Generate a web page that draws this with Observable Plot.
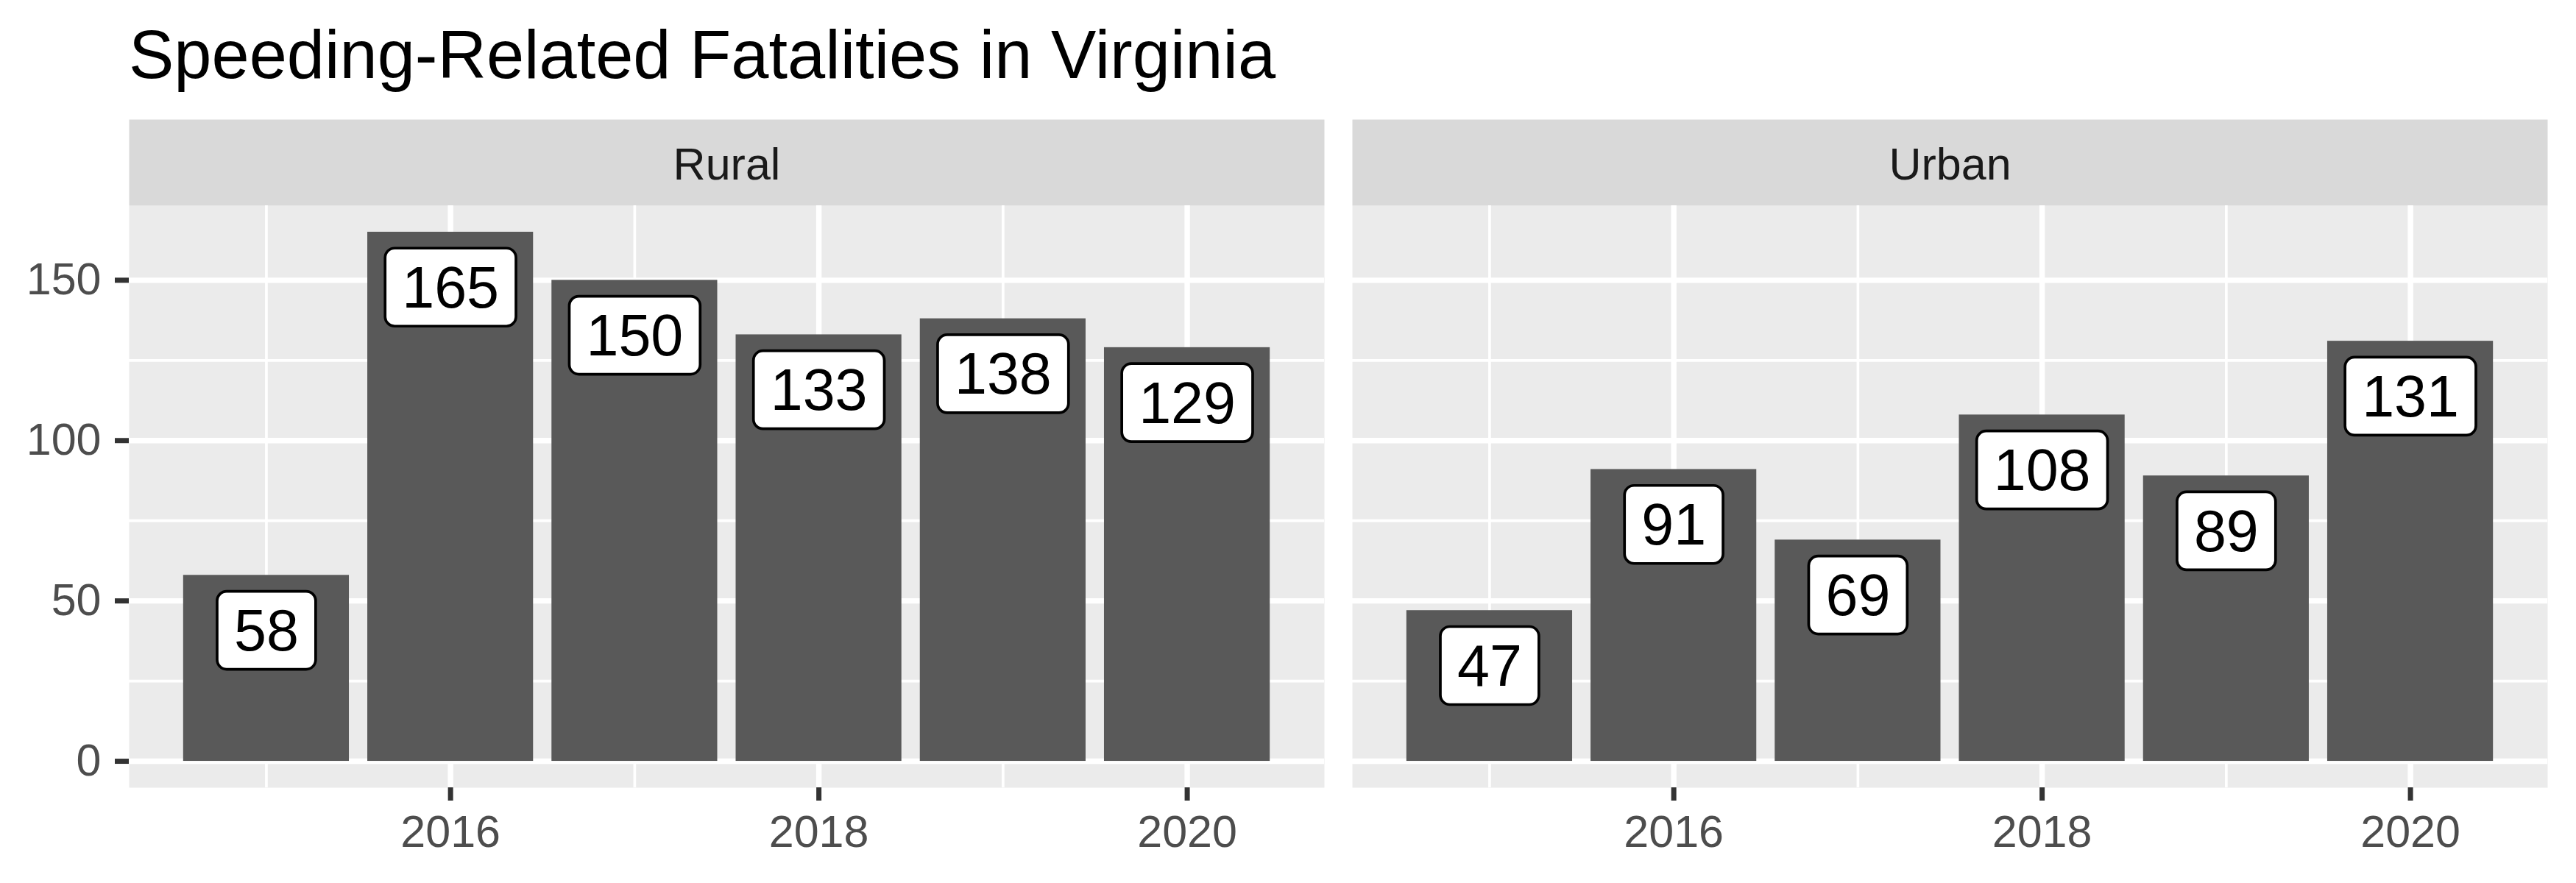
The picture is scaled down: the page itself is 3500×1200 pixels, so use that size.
<!DOCTYPE html>
<html><head><meta charset="utf-8">
<script src="https://cdn.jsdelivr.net/npm/d3@7"></script>
<script src="https://cdn.jsdelivr.net/npm/@observablehq/plot@0.6"></script>
<style>
body{margin:0;background:#fff;width:3500px;height:1200px;overflow:hidden;font-family:"Liberation Sans",Arial,sans-serif;}
#title{position:absolute;left:175px;top:28px;font-size:92px;line-height:92px;color:#000;white-space:nowrap;}
#chart{position:absolute;left:0;top:130px;}
</style></head><body>
<div id="title">Speeding-Related Fatalities in Virginia</div>
<div id="chart"></div>
<script>
const locations = ["Rural", "Urban"];
const years = [2015, 2016, 2017, 2018, 2019, 2020];
const rural = [58, 165, 150, 133, 138, 129];
const urban = [47, 91, 69, 108, 89, 131];
const yTicks = [0, 50, 100, 150];
const yMinor = [25, 75, 125];
const xTicks = [2016, 2018, 2020];
const xMinor = [2015, 2017, 2019];

const data = [
  ...years.map((y, i) => ({loc: "Rural", year: y, value: rural[i]})),
  ...years.map((y, i) => ({loc: "Urban", year: y, value: urban[i]}))
];

const barW = 0.9;
const xLo = d3.min(years) - barW / 2, xHi = d3.max(years) + barW / 2;
const xPad = (xHi - xLo) * 0.05;
const yHi = d3.max(data, d => d.value), yPad = yHi * 0.05;

const W = 3500, H = 1070, mT = 149, mB = 130, mL = 175, mR = 38;
const stripH = 117;
const panelH = H - mT - mB;
const font = '"Liberation Sans", Arial, sans-serif';

const chart = Plot.plot({
  width: W, height: H,
  marginTop: mT, marginBottom: mB, marginLeft: mL, marginRight: mR,
  facetMarginTop: 0, facetMarginBottom: 0, facetMarginLeft: 0, facetMarginRight: 0,
  style: {fontFamily: font, fontSize: "61px", background: "transparent", overflow: "visible"},
  fx: {domain: locations, paddingInner: 0.02286, paddingOuter: 0, axis: null, label: null},
  x: {domain: [xLo - xPad, xHi + xPad]},
  y: {domain: [-yPad, yHi + yPad]},
  marks: [
    Plot.frame({fill: "#EBEBEB"}),
    Plot.frame({fill: "#D9D9D9", insetTop: -stripH, insetBottom: panelH}),
    Plot.gridY(yMinor, {stroke: "white", strokeOpacity: 1, strokeWidth: 3.7}),
    Plot.gridX(xMinor, {stroke: "white", strokeOpacity: 1, strokeWidth: 3.7}),
    Plot.gridY(yTicks, {stroke: "white", strokeOpacity: 1, strokeWidth: 7.4}),
    Plot.gridX(xTicks, {stroke: "white", strokeOpacity: 1, strokeWidth: 7.4}),
    Plot.rectY(data, {fx: "loc", x1: d => d.year - barW / 2, x2: d => d.year + barW / 2, y1: 0, y2: "value", fill: "#595959"}),
    Plot.axisY(yTicks, {label: null, tickSize: 19, tickPadding: 19, fontSize: 61, fill: "#4D4D4D", stroke: "#333333", strokeWidth: 7}),
    Plot.axisX(xTicks, {label: null, tickSize: 18, tickPadding: 19, fontSize: 61, fill: "#4D4D4D", stroke: "#333333", strokeWidth: 7, tickFormat: d => String(d)}),
    Plot.text(data, {fx: "loc", x: "year", y: "value", text: d => String(d.value), dy: 77, fontSize: 79, fill: "black", ariaDescription: "vlabel"}),
    Plot.text(locations, {fx: d => d, text: d => d, frameAnchor: "top", lineAnchor: "middle", dy: -55, fontSize: 61, fill: "#1A1A1A"})
  ]
});
document.getElementById("chart").append(chart);

// rounded label boxes behind value labels (like geom_label)
const ns = "http://www.w3.org/2000/svg";
chart.querySelectorAll('g[aria-description="vlabel"] text').forEach(t => {
  const b = t.getBBox();
  const w = b.width + 46, h = 106;
  const cx = b.x + b.width / 2, cy = b.y + b.height / 2;
  const r = document.createElementNS(ns, "rect");
  r.setAttribute("x", cx - w / 2);
  r.setAttribute("y", cy - h / 2);
  r.setAttribute("width", w);
  r.setAttribute("height", h);
  r.setAttribute("rx", 13);
  r.setAttribute("fill", "white");
  r.setAttribute("stroke", "black");
  r.setAttribute("stroke-width", 3.7);
  const tr = t.getAttribute("transform");
  if (tr) r.setAttribute("transform", tr);
  t.parentNode.insertBefore(r, t);
});
</script>
</body></html>
